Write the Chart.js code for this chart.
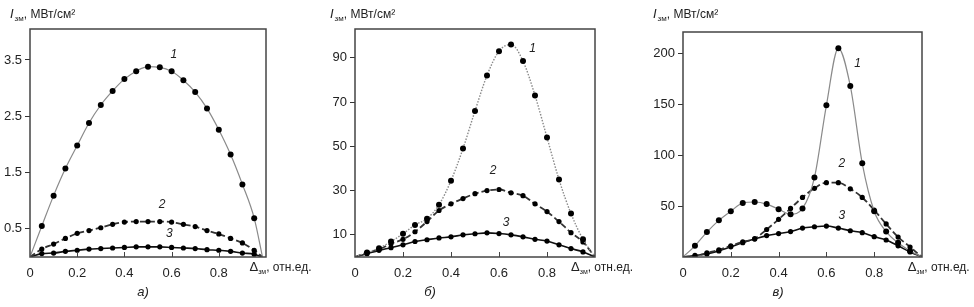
<!DOCTYPE html>
<html>
<head>
<meta charset="utf-8">
<script src="https://cdn.jsdelivr.net/npm/chart.js@4/dist/chart.umd.min.js"></script>
<style>
  body { margin: 0; background: #fff; }
  .wrap { position: relative; width: 974px; height: 307px; }
  canvas { position: absolute; top: 0; }
</style>
</head>
<body>
<div class="wrap">
  <canvas id="chartA" width="320" height="307" style="left:0px"></canvas>
  <canvas id="chartB" width="320" height="307" style="left:320px"></canvas>
  <canvas id="chartC" width="334" height="307" style="left:640px"></canvas>
</div>
<script>
// x positions of the points (fractions), the first and last are the zero ends
const xsA = [0, 0.05, 0.1, 0.15, 0.2, 0.25, 0.3, 0.35, 0.4, 0.45, 0.5, 0.55, 0.6, 0.65, 0.7, 0.75, 0.8, 0.85, 0.9, 0.95, 0.985];
const xsBC = [0, 0.05, 0.1, 0.15, 0.2, 0.25, 0.3, 0.35, 0.4, 0.45, 0.5, 0.55, 0.6, 0.65, 0.7, 0.75, 0.8, 0.85, 0.9, 0.95, 1.0];

// panel a)
const a1 = [0, 0.55, 1.09, 1.57, 1.98, 2.38, 2.70, 2.95, 3.16, 3.30, 3.38, 3.37, 3.30, 3.14, 2.93, 2.64, 2.26, 1.82, 1.29, 0.69, 0];
const a2 = [0, 0.14, 0.23, 0.33, 0.42, 0.47, 0.52, 0.58, 0.62, 0.63, 0.63, 0.63, 0.62, 0.58, 0.54, 0.47, 0.41, 0.33, 0.25, 0.12, 0];
const a3 = [0, 0.06, 0.07, 0.10, 0.12, 0.14, 0.15, 0.16, 0.17, 0.18, 0.18, 0.18, 0.17, 0.16, 0.15, 0.13, 0.12, 0.10, 0.07, 0.05, 0];
const yTicksA = [0.5, 1.5, 2.5, 3.5];

// panel б)
const b1 = [0, 2, 4, 7, 10.5, 14.5, 17.3, 23.6, 34.5, 49, 66, 82, 93, 96, 88.5, 73, 54, 35, 19.6, 8, 0];
const b2 = [0, 2, 3.5, 6, 8, 11.4, 16, 21, 24, 26.4, 28.6, 30, 30.5, 29, 27.7, 24, 20.5, 16, 11, 6.8, 0];
const b3 = [0, 1.5, 3, 4.2, 5.5, 7, 7.8, 8.6, 9.1, 10, 10.5, 10.9, 10.6, 10, 9.1, 8, 7.2, 5.5, 3.8, 2.3, 0];
const yTicksB = [10, 30, 50, 70, 90];

// panel в)
const c1 = [0, 11, 24.5, 36, 45, 53, 54, 52, 47, 42, 47.7, 78, 149, 205, 168, 92, 45, 25, 14, 6, 0];
const c2 = [0, 1, 4, 7, 11, 15, 18, 27, 37, 47.7, 58.5, 67.5, 73, 73, 67, 58.5, 46, 32.5, 19.6, 9.8, 0];
const c3 = [0, 1.5, 3, 6, 10, 14, 17.6, 21, 23, 25, 28.4, 29.7, 30.4, 28.4, 25.8, 23.9, 20, 16.7, 11, 5, 0];
const yTicksC = [50, 100, 150, 200];

const xTicks = [0, 0.2, 0.4, 0.6, 0.8];
const curveNames = ['1', '2', '3'];
const captions = ['а)', 'б)', 'в)'];

const FONT = '"Liberation Sans", Arial, sans-serif';

function pts(xs, ys) {
  return xs.map((x, i) => ({ x: x, y: ys[i] }));
}

function noEnds(ctx) {
  const n = ctx.dataset.data.length;
  return (ctx.dataIndex === 0 || ctx.dataIndex === n - 1) ? 0 : ctx.dataset.dotR;
}

// frame, inner x ticks, axis titles, curve numbers, caption
const deco = {
  id: 'deco',
  afterDraw(chart, args, o) {
    const c = chart.ctx;
    const a = chart.chartArea;
    const sx = chart.scales.x, sy = chart.scales.y;
    c.save();
    c.strokeStyle = '#444';
    c.lineWidth = 1.5;
    c.strokeRect(a.left, a.top, a.right - a.left, a.bottom - a.top);
    c.lineWidth = 1;
    xTicks.forEach(v => {
      if (v === 0) return;
      const px = Math.round(sx.getPixelForValue(v)) + 0.5;
      c.beginPath();
      c.moveTo(px, a.bottom);
      c.lineTo(px, a.bottom - 5);
      c.stroke();
    });
    c.fillStyle = '#222';
    c.textBaseline = 'alphabetic';
    c.textAlign = 'left';
    // y title
    let tx = o.titleX, ty = 18;
    c.font = 'italic 13px ' + FONT;
    c.fillText('I', tx, ty);
    tx += c.measureText('I').width + 1;
    c.font = '8px ' + FONT;
    c.fillText('зм', tx, ty + 3);
    tx += c.measureText('зм').width;
    c.font = '12px ' + FONT;
    c.fillText(', МВт/см²', tx, ty);
    // x title
    let lx = sx.getPixelForValue(o.xLabelAt), ly = 271;
    c.font = '13px ' + FONT;
    c.fillText('Δ', lx, ly);
    lx += c.measureText('Δ').width;
    c.font = '7px ' + FONT;
    c.fillText('зм', lx, ly + 3);
    lx += c.measureText('зм').width;
    c.font = '12px ' + FONT;
    c.fillText(', отн.ед.', lx, ly);
    // curve numbers
    c.font = 'italic 12px ' + FONT;
    c.textAlign = 'center';
    c.textBaseline = 'middle';
    o.marks.forEach((m, i) => {
      c.fillText(curveNames[i], sx.getPixelForValue(m[0]), sy.getPixelForValue(m[1]));
    });
    // caption
    c.font = 'italic 13px ' + FONT;
    c.fillText(o.caption, o.captionX, 292);
    c.restore();
  }
};

function makeChart(id, xs, s1, s2, s3, yTicks, yMax, box, decoOpts, dotted) {
  const styles = [
    { borderColor: '#8a8a8a', borderWidth: dotted ? 1.4 : 1.2, borderDash: dotted ? [1.5, 1.5] : [], dotR: 3 },
    { borderColor: '#333', borderWidth: 1.8, borderDash: [6, 3], dotR: 2.6 },
    { borderColor: '#111', borderWidth: 1.6, borderDash: [], dotR: 2.6 }
  ];
  const datasets = [s1, s2, s3].map((s, i) => Object.assign({
    data: pts(xs, s),
    cubicInterpolationMode: 'monotone',
    pointRadius: noEnds,
    pointBackgroundColor: '#000',
    pointBorderWidth: 0,
    fill: false
  }, styles[i]));

  return new Chart(document.getElementById(id), {
    type: 'line',
    data: { datasets: datasets },
    options: {
      responsive: false,
      animation: false,
      devicePixelRatio: 1,
      layout: { padding: { left: 0, top: box.top, right: box.right, bottom: 0 } },
      plugins: { legend: { display: false }, tooltip: { enabled: false }, deco: decoOpts },
      scales: {
        x: {
          type: 'linear', min: 0, max: 1,
          afterBuildTicks: s => { s.ticks = xTicks.map(v => ({ value: v })); },
          afterFit: s => { s.height = 50; },
          grid: { display: false },
          border: { display: false },
          ticks: {
            color: '#222', padding: 1, maxRotation: 0,
            font: { family: FONT, size: 13 },
            callback: v => v === 0 ? '0' : v.toFixed(1)
          }
        },
        y: {
          min: 0, max: yMax,
          afterBuildTicks: s => { s.ticks = yTicks.map(v => ({ value: v })); },
          afterFit: s => { s.width = box.left; },
          grid: { drawOnChartArea: false, drawTicks: true, tickLength: 5, color: '#333', lineWidth: 1 },
          border: { display: false },
          ticks: {
            color: '#222', padding: 3,
            font: { family: FONT, size: 13 },
            callback: v => String(v)
          }
        }
      }
    },
    plugins: [deco]
  });
}

makeChart('chartA', xsA, a1, a2, a3, yTicksA, 4.05,
  { left: 30, top: 29, right: 54 },
  { titleX: 10, xLabelAt: 0.93, caption: captions[0], captionX: 143,
    marks: [[0.61, 3.6], [0.56, 0.93], [0.59, 0.41]] }, false);

makeChart('chartB', xsBC, b1, b2, b3, yTicksB, 103,
  { left: 35, top: 29, right: 45 },
  { titleX: 10, xLabelAt: 0.9, caption: captions[1], captionX: 110,
    marks: [[0.74, 94], [0.575, 39], [0.63, 15.5]] }, true);

makeChart('chartC', xsBC, c1, c2, c3, yTicksC, 221,
  { left: 43, top: 32, right: 52 },
  { titleX: 13, xLabelAt: 0.94, caption: captions[2], captionX: 138,
    marks: [[0.73, 190], [0.665, 92], [0.665, 41]] }, false);
</script>
</body>
</html>
